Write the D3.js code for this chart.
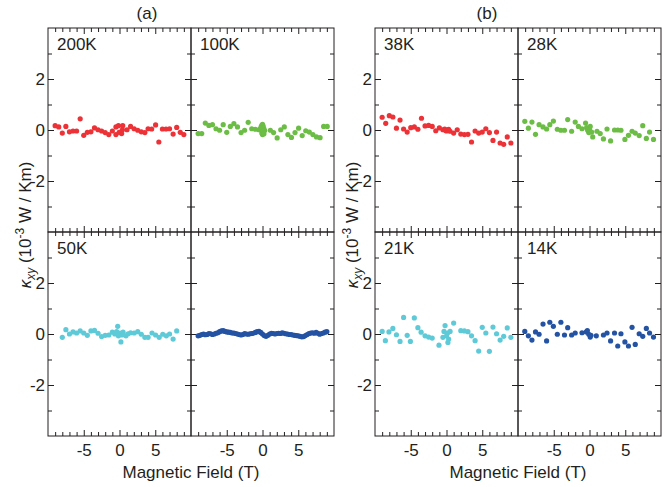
<!DOCTYPE html>
<html>
<head>
<meta charset="utf-8">
<script src="https://cdn.jsdelivr.net/npm/d3@7"></script>
<style>
  body { margin: 0; background: #fff; }
  text { font-family: "Liberation Sans", Arial, sans-serif; }
</style>
</head>
<body>
<svg id="chart" width="669" height="487"></svg>
<script>
// [field (T), kappa_xy (1e-3 W/Km)]
var k200K = [[-9,0.17],[-8.5,0.12],[-8,-0.12],[-7.5,0.14],[-7,-0.07],[-6.5,-0.04],[-6,-0.04],[-5.5,0.44],[-5,-0.21],[-4.5,-0.09],
  [-4,-0.07],[-3.5,0.08],[-3,0.01],[-2.5,-0.04],[-2,-0.10],[-1.5,-0.18],[-1,-0.04],[-0.5,0.12],[-0.5,-0.18],[-0.15,0.17],
  [-0.05,-0.09],[0.3,-0.14],[0.45,0.17],[0.4,0.01],[1.05,0.01],[1.55,0.14],[2.05,0.05],[2.55,-0.01],[3.05,-0.07],[3.55,-0.10],
  [4,0.05],[4.5,0.04],[5.05,0.20],[5.5,-0.47],[6,0.04],[6.5,0.04],[7,0.05],[7.5,-0.16],[8,0.10],[8.5,-0.09],[9,-0.18]]

var k100K = [[-9,-0.14],[-8.5,-0.14],[-8,0.27],[-7.5,0.18],[-7,0.21],[-6.5,0.05],[-6,-0.01],[-5.5,0.21],[-5,-0.09],[-4.5,0.14],
  [-4,0.25],[-3.5,0.12],[-3,-0.10],[-2.5,-0.01],[-2,0.30],[-1.5,0.05],[-1,0.03],[-0.5,0.01],
  [-0.3,0.05],[-0.2,0.12],[-0.1,0.18],[0,0.22],[0.1,0.15],[0.2,0.05],[-0.1,-0.12],[0,-0.18],[0.1,-0.08],[0.3,-0.02],[0,0.02],[0.2,-0.15],
  [1.1,-0.01],[1.55,-0.10],[2.05,-0.31],[2.55,0.01],[3.05,0.12],[3.55,-0.18],[4.05,-0.29],[4.55,-0.10],[5.05,0.07],[5.55,-0.22],
  [6.05,-0.03],[6.55,-0.08],[7.05,-0.18],[7.55,-0.27],[8.05,-0.30],[8.55,0.14],[9.05,0.14]]

var k50K = [[-8,-0.13],[-7.5,0.17],[-7,0],[-6.5,0.08],[-6,0.04],[-5.5,0.12],[-5,0.04],[-4.5,-0.05],[-4,0.12],[-3.5,0.14],
  [-3,0.03],[-2.5,-0.10],[-2,-0.05],[-1.5,-0.04],[-1,0.07],[-0.65,0],[-0.4,0.09],[-0.25,0.30],[-0.15,-0.07],[0.05,0.04],
  [0.2,-0.31],[0.35,-0.04],[0.5,0.07],[0.9,-0.07],[1.2,0.01],[1.55,0.05],[2.05,0.04],[2.55,0.09],[3.05,-0.01],[3.55,-0.13],
  [4,-0.13],[4.55,0.04],[5.05,-0.04],[5.55,-0.13],[6.05,-0.01],[6.55,-0.07],[7,0],[7.5,-0.20],[8,0.12]]

// dense sweep, no label in the figure
var k50Kb = [[-9,-0.07],[-8.75,-0.05],[-8.5,-0.02],[-8.25,0],[-8,-0.03],[-7.75,-0.02],[-7.5,0.02],[-7.25,0.01],[-7,-0.02],[-6.75,0],
  [-6.5,0.03],[-6.25,0.05],[-6,0.09],[-5.75,0.12],[-5.5,0.13],[-5.25,0.10],[-5,0.08],[-4.75,0.07],[-4.5,0.06],[-4.25,0.04],
  [-4,0.04],[-3.75,0.02],[-3.5,0],[-3.25,-0.02],[-3,-0.04],[-2.75,-0.02],[-2.5,0.02],[-2.25,0],[-2,-0.01],[-1.75,0.01],
  [-1.5,0.02],[-1.25,0.03],[-1,0.06],[-0.75,0.09],[-0.5,0.10],[-0.25,0.06],[0,0],[0.25,-0.06],[0.5,-0.09],[0.75,-0.05],
  [1,0],[1.25,0.03],[1.5,0.02],[1.75,0],[2,0.02],[2.25,0.03],[2.5,0.02],[2.75,0.05],[3,0.03],[3.25,0.01],
  [3.5,0],[3.75,-0.02],[4,-0.02],[4.25,-0.04],[4.5,-0.05],[4.75,-0.06],[5,-0.07],[5.25,-0.09],[5.5,-0.11],[5.75,-0.10],
  [6,-0.06],[6.25,-0.02],[6.5,0.02],[6.75,0.04],[7,0.05],[7.25,0.03],[7.5,0.06],[7.75,0.03],[8,-0.01],[8.25,0.02],
  [8.5,0.04],[8.75,0.07],[9,0.09]]

var k38K = [[-9,0.50],[-8.5,0.26],[-8,0.56],[-7.5,0.51],[-7,0.07],[-6.5,0.39],[-6,0.04],[-5.5,-0.08],[-5,0.09],[-4.5,0.12],
  [-4,0.03],[-3.5,0.46],[-3,0.16],[-2.5,0.18],[-2,0.14],[-1.5,-0.03],[-1,0.08],[-0.5,0.01],[-0.25,0.04],[-0.1,-0.02],
  [0,-0.04],[0.15,0],[0.3,0.03],[0.5,-0.05],[1,-0.12],[1.5,0.01],[2,-0.16],[2.5,-0.18],[3,-0.17],[3.5,-0.47],
  [4,-0.04],[4.5,-0.12],[5,-0.08],[5.5,0.05],[6,-0.10],[6.5,-0.41],[7,-0.08],[7.5,-0.51],[8,-0.56],[8.5,-0.27],[9,-0.51]]

var k28K = [[-9.05,0.34],[-8.55,0.07],[-8.05,0.31],[-7.55,-0.17],[-7.05,0.21],[-6.5,0.12],[-6,0.04],[-5.55,0.21],[-5.05,0.35],[-4.5,0.03],
  [-4,-0.01],[-3.5,-0.01],[-3.05,0.41],[-2.5,-0.05],[-2,0.31],[-1.55,0.14],[-1.05,0.05],[-0.55,0.27],[-0.4,0.09],[-0.25,-0.01],
  [-0.1,-0.10],[0,0.05],[0.1,0.14],[0.3,-0.08],[0.45,-0.27],[1.05,-0.05],[1.5,-0.14],[1.95,-0.35],[2.45,0.04],[2.95,-0.43],
  [3.5,0],[3.95,0],[4.4,-0.01],[4.95,-0.37],[5.45,-0.21],[5.95,-0.05],[6.4,-0.12],[6.95,-0.22],[7.45,0.17],[7.95,-0.33],
  [8.4,-0.08],[8.95,-0.37]]

var k21K = [[-9,0.10],[-8.55,-0.26],[-8.05,0.08],[-7.5,0.22],[-7,-0.03],[-6.5,-0.29],[-6,0.65],[-5.5,-0.05],[-5.05,-0.29],[-4.5,0.63],
  [-4,0.25],[-3.55,0.07],[-3,-0.07],[-2.5,-0.12],[-2,-0.16],[-1.05,-0.44],[-0.5,-0.13],[-0.35,0.10],[-0.2,0.33],[0,-0.07],
  [0.15,0.04],[0.3,-0.20],[0.2,-0.33],[0.5,0.10],[1,0.43],[2,0.13],[2.5,0.12],[3,0.09],[3.5,-0.07],[4,-0.26],
  [4.5,-0.67],[5,0.26],[5.5,0.04],[6,-0.68],[6.5,0.27],[7,0.01],[7.5,-0.24],[8,-0.09],[8.5,0.24],[9,-0.13]]

var k14K = [[-9.05,0.10],[-8.55,-0.07],[-8.05,-0.24],[-7.55,0.08],[-7.05,-0.01],[-6.5,0.39],[-6,-0.27],[-5.55,0.46],[-5.05,0.30],[-4.5,-0.01],
  [-4,0.46],[-3.5,-0.04],[-3.05,0.25],[-2.5,-0.04],[-2,0.04],[-1.05,0.05],[-0.45,0.08],[-0.3,0.13],[-0.1,-0.01],[0.1,-0.12],
  [0.2,-0.05],[0.95,-0.07],[1.95,-0.04],[2.45,0.04],[2.95,-0.27],[3.5,0.04],[3.95,-0.47],[4.4,0.01],[4.95,-0.31],[5.45,-0.47],
  [5.95,0.26],[6.4,-0.41],[6.95,0.01],[7.45,-0.09],[7.95,0.22],[8.4,0.04],[8.95,-0.12]]

var groupLabels = ["(a)", "(b)"]
var panelNames = ["200K", "100K", "50K", "", "38K", "28K", "21K", "14K"]
var xMajorTicks = [-5, 0, 5]
var xMinorTicks = [-9, -8, -7, -6, -4, -3, -2, -1, 1, 2, 3, 4, 6, 7, 8, 9]
var yMajorTicks = [-2, 0, 2]
var yMinorTicks = [-3, -1, 1, 3]

var red = "#ec3237", green = "#6cbd45", cyan = "#5ecad8", blue = "#2553a3"

var panels = [
  {name: panelNames[0], data: k200K, color: red,   group: 0, row: 0, col: 0},
  {name: panelNames[1], data: k100K, color: green, group: 0, row: 0, col: 1},
  {name: panelNames[2], data: k50K,  color: cyan,  group: 0, row: 1, col: 0},
  {name: panelNames[3], data: k50Kb, color: blue,  group: 0, row: 1, col: 1},
  {name: panelNames[4], data: k38K,  color: red,   group: 1, row: 0, col: 0},
  {name: panelNames[5], data: k28K,  color: green, group: 1, row: 0, col: 1},
  {name: panelNames[6], data: k21K,  color: cyan,  group: 1, row: 1, col: 0},
  {name: panelNames[7], data: k14K,  color: blue,  group: 1, row: 1, col: 1}
]

var dims = {
  top: 28,
  panelW: 143,
  panelH: 204,
  groupLeft: [48, 375],
  groupLabelX: [147, 487]
}
var ink = "#231f20"

var svg = d3.select("#chart")

panels.forEach(function(p) {
  var px = dims.groupLeft[p.group] + p.col * dims.panelW
  var py = dims.top + p.row * dims.panelH

  var xScale = d3.scaleLinear().domain([-10, 10]).range([px, px + dims.panelW])
  var yScale = d3.scaleLinear().domain([-4, 4]).range([py + dims.panelH, py])

  var g = svg.append("g")

  function axis(gen, tf) {
    var a = g.append("g").attr("transform", tf).call(gen)
    a.select(".domain").remove()
    a.selectAll("line").attr("stroke", ink)
    a.selectAll("text").attr("fill", ink).style("font-size", "17px")
       .style("font-family", "'Liberation Sans', Arial, sans-serif")
    return a
  }
  var fmt = d => String(d)

  // bottom
  axis(d3.axisBottom(xScale).tickValues(xMajorTicks).tickSize(-6).tickPadding(8)
        .tickFormat(p.row == 1 ? fmt : ""), `translate(0,${py + dims.panelH})`)
  axis(d3.axisBottom(xScale).tickValues(xMinorTicks).tickSize(-4).tickFormat(""), `translate(0,${py + dims.panelH})`)
  // top
  axis(d3.axisTop(xScale).tickValues(xMajorTicks).tickSize(-6).tickFormat(""), `translate(0,${py})`)
  axis(d3.axisTop(xScale).tickValues(xMinorTicks).tickSize(-4).tickFormat(""), `translate(0,${py})`)
  // left
  axis(d3.axisLeft(yScale).tickValues(yMajorTicks).tickSize(-6).tickPadding(3)
        .tickFormat(p.col == 0 ? fmt : ""), `translate(${px},0)`)
  axis(d3.axisLeft(yScale).tickValues(yMinorTicks).tickSize(-4).tickFormat(""), `translate(${px},0)`)
  // right
  axis(d3.axisRight(yScale).tickValues(yMajorTicks).tickSize(-6).tickFormat(""), `translate(${px + dims.panelW},0)`)
  axis(d3.axisRight(yScale).tickValues(yMinorTicks).tickSize(-4).tickFormat(""), `translate(${px + dims.panelW},0)`)

  g.append("rect")
   .attr("x", px).attr("y", py)
   .attr("width", dims.panelW).attr("height", dims.panelH)
   .attr("fill", "none").attr("stroke", ink).attr("stroke-width", 1)

  g.append("g").selectAll("circle")
   .data(p.data)
   .enter()
   .append("circle")
   .attr("cx", d => xScale(d[0]))
   .attr("cy", d => yScale(d[1]))
   .attr("r", 2.6)
   .attr("fill", p.color)

  if (p.name) {
    g.append("text")
     .attr("x", px + 9)
     .attr("y", py + 22)
     .attr("fill", ink)
     .style("font-size", "17px")
     .text(p.name)
  }
})

groupLabels.forEach(function(lbl, i) {
  var gx = dims.groupLeft[i]
  var cx = gx + dims.panelW

  svg.append("text")
     .attr("x", dims.groupLabelX[i])
     .attr("y", 19)
     .attr("text-anchor", "middle")
     .attr("fill", ink)
     .style("font-size", "17px")
     .text(lbl)

  svg.append("text")
     .attr("x", cx)
     .attr("y", 478)
     .attr("text-anchor", "middle")
     .attr("fill", ink)
     .style("font-size", "17px")
     .text("Magnetic Field (T)")

  // rotated y title, kappa_xy with sub/superscripts
  var yt = svg.append("text")
     .attr("transform", `translate(${gx - 17},${225}) rotate(-90)`)
     .attr("text-anchor", "middle")
     .attr("fill", ink)
     .style("font-size", "17px")
  yt.append("tspan").style("font-style", "italic").text("κ")
  yt.append("tspan").style("font-style", "italic").style("font-size", "12px").attr("dy", 4).text("xy")
  yt.append("tspan").attr("dy", -4).text(" (10")
  yt.append("tspan").style("font-size", "12px").attr("dy", -7).text("-3")
  yt.append("tspan").attr("dy", 7).text(" W / Km)")
})
</script>
</body>
</html>
